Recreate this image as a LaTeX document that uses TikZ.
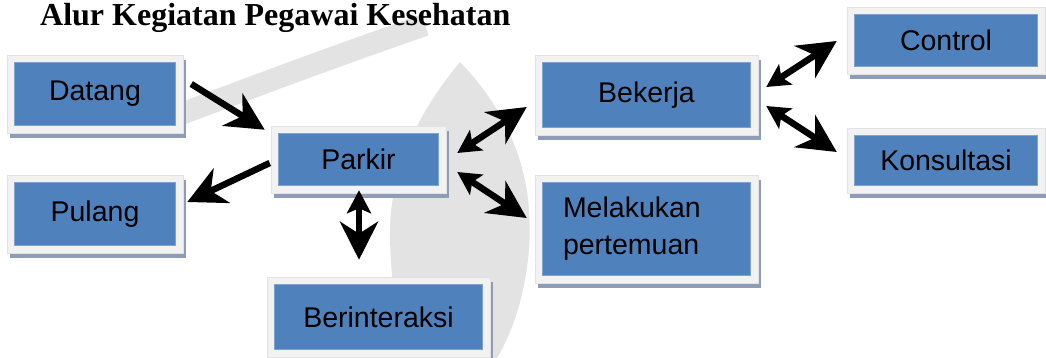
\documentclass[tikz,border=0pt]{standalone}
\usepackage{fontspec}
\setmainfont{Liberation Sans}
\newfontfamily\titlefont{Liberation Serif}
\usetikzlibrary{arrows.meta,shadows}

\definecolor{boxblue}{HTML}{4F81BD}
\definecolor{boxedge}{HTML}{7FA2D0}
\definecolor{framegray}{HTML}{F2F2F2}
\definecolor{frameedge}{HTML}{E2E2E2}
\definecolor{shadowgray}{HTML}{8E9DB5}
\definecolor{markgray}{HTML}{E3E3E3}

\tikzset{
  panel/.style={fill=framegray, draw=frameedge, line width=0.5pt, inner sep=0pt,
    font=\fontsize{28.5}{37}\selectfont, text=black,
    drop shadow={shadow xshift=3pt, shadow yshift=-5pt, fill=shadowgray, opacity=1},
    path picture={\fill[boxblue, draw=boxedge, line width=0.8pt]
      ([shift={(7.5pt,-7.5pt)}]path picture bounding box.north west) rectangle
      ([shift={(-7.5pt,7.5pt)}]path picture bounding box.south east);}},
  bigtip/.tip={Stealth[length=38pt,width=38pt,inset=12pt]},
  smalltip/.tip={Stealth[length=23pt,width=24pt,inset=5pt]},
  onearrow/.style={line width=6.5pt, -bigtip},
  twoarrow/.style={line width=6.5pt, smalltip-bigtip},
}

\begin{document}
\begin{tikzpicture}[x=1pt, y=-1pt]
  \useasboundingbox (0,0) rectangle (1046,358);

  % faint emblem in the background: a pointed leaf in the middle
  \fill[markgray] (460,62) .. controls (420,110) and (388,170) .. (390,240)
    .. controls (392,300) and (400,340) .. (405,358) -- (497,358)
    .. controls (520,320) and (533,262) .. (529,210)
    .. controls (525,150) and (497,100) .. (460,62) -- cycle;
  % and a slanted band on its left
  \draw[markgray, line width=22pt] (165,120) .. controls (250,88) and (330,58) .. (425,25);

  % title
  \node[anchor=base west, inner sep=0pt, font=\titlefont\bfseries\fontsize{32}{36}\selectfont]
    (title) at (40,26) {Alur Kegiatan Pegawai Kesehatan};

  % activity boxes
  \node[panel, minimum width=176pt, minimum height=78pt] (datang) at (95,94) {Datang};
  \node[panel, minimum width=176pt, minimum height=78pt] (pulang) at (95,214) {Pulang};
  \node[panel, minimum width=175pt, minimum height=67pt] (parkir) at (358.5,159.5) {Parkir};
  \node[panel, minimum width=223pt, minimum height=80pt] (bekerja) at (646.5,95) {Bekerja};
  \node[panel, minimum width=223pt, minimum height=108pt, text width=167pt, align=left]
    (pertemuan) at (646.5,229) {Melakukan\\pertemuan};
  \node[panel, minimum width=198pt, minimum height=67pt] (control) at (946,40.5) {Control};
  \node[panel, minimum width=198pt, minimum height=65pt] (konsultasi) at (946,160.5) {Konsultasi};
  \node[panel, minimum width=223pt, minimum height=80pt] (interaksi) at (378.5,317) {Berinteraksi};

  % connectors
  \draw[onearrow] ([shift={(8,-10)}]datang.east) -- ([shift={(-6,4)}]parkir.north west);
  \draw[onearrow] ([shift={(-1,3.5)}]parkir.west) -- ([shift={(4,-12)}]pulang.east);
  \draw[twoarrow] ([shift={(11,-6.5)}]parkir.east) -- ([shift={(-8,12)}]bekerja.west);
  \draw[twoarrow] ([shift={(11,12.5)}]parkir.east) -- ([shift={(-8,-11)}]pertemuan.west);
  \draw[twoarrow] ([shift={(0.5,-3)}]parkir.south) -- ([shift={(-19.5,-17)}]interaksi.north);
  \draw[twoarrow] ([shift={(8,-8)}]bekerja.east) -- ([shift={(-10,0.5)}]control.west);
  \draw[twoarrow] ([shift={(8,11)}]bekerja.east) -- ([shift={(-10,-8.5)}]konsultasi.west);
\end{tikzpicture}
\end{document}
